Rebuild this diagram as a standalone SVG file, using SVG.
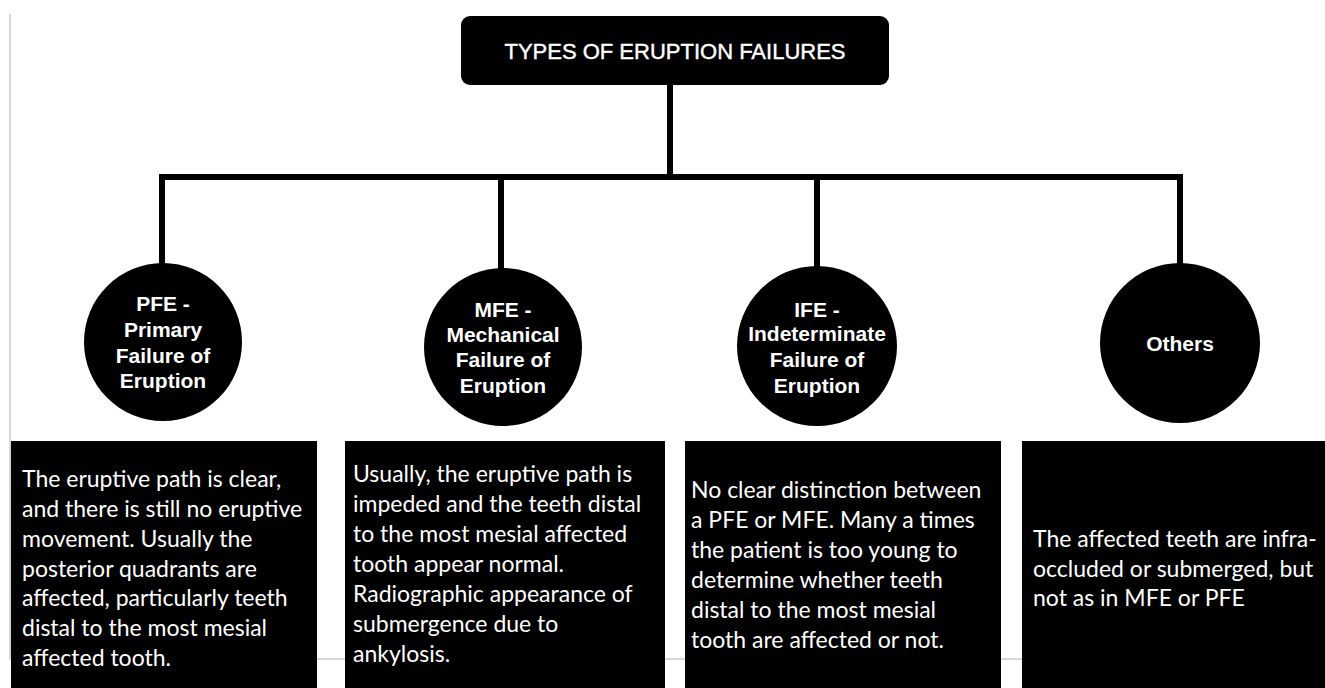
<svg xmlns="http://www.w3.org/2000/svg" width="1325" height="688" viewBox="0 0 1325 688">
<style>
.conn{stroke:#000;stroke-width:6;fill:none;stroke-linecap:square}
.guide{stroke:#c8c8c8;stroke-width:1.5;fill:none}
.title{font-family:"Liberation Sans",Arial,sans-serif;font-size:22px;fill:#fff;stroke:#fff;stroke-width:0.4;text-anchor:middle}
.circ{font-family:"Liberation Sans",Arial,sans-serif;font-size:21px;font-weight:bold;fill:#fff;text-anchor:middle}
.desc{font-family:Lato,"Open Sans",sans-serif;font-size:23px;fill:#fff}
</style>
<rect width="1325" height="688" fill="#fff"/>
<g id="guides">
<line class="guide" x1="10" y1="14" x2="10" y2="659"/>
<line class="guide" x1="10" y1="659" x2="1325" y2="659"/>
</g>
<g id="connectors">
<line class="conn" x1="670" y1="85" x2="670" y2="177"/>
<line class="conn" x1="162" y1="177" x2="1180" y2="177"/>
<line class="conn" x1="162" y1="177" x2="162" y2="266"/>
<line class="conn" x1="501" y1="177" x2="501" y2="270"/>
<line class="conn" x1="817" y1="177" x2="817" y2="268"/>
<line class="conn" x1="1180" y1="177" x2="1180" y2="266"/>
</g>
<g id="root">
<rect x="461" y="16" width="428" height="69" rx="9" fill="#000"/>
<text class="title" x="675" y="59">TYPES OF ERUPTION FAILURES</text>
</g>
<g id="pfe">
<circle cx="163" cy="342" r="79" fill="#000"/>
<text class="circ" x="163" y="311">PFE -</text>
<text class="circ" x="163" y="337">Primary</text>
<text class="circ" x="163" y="363">Failure of</text>
<text class="circ" x="163" y="388">Eruption</text>
</g>
<g id="mfe">
<circle cx="503" cy="347" r="79" fill="#000"/>
<text class="circ" x="503" y="317">MFE -</text>
<text class="circ" x="503" y="342">Mechanical</text>
<text class="circ" x="503" y="367">Failure of</text>
<text class="circ" x="503" y="393">Eruption</text>
</g>
<g id="ife">
<circle cx="817" cy="346" r="80" fill="#000"/>
<text class="circ" x="817" y="317">IFE -</text>
<text class="circ" x="817" y="341">Indeterminate</text>
<text class="circ" x="817" y="367">Failure of</text>
<text class="circ" x="817" y="393">Eruption</text>
</g>
<g id="others">
<circle cx="1180" cy="343" r="80" fill="#000"/>
<text class="circ" x="1180" y="351">Others</text>
</g>
<g id="desc-pfe">
<rect x="11" y="441" width="306" height="247" fill="#000"/>
<text class="desc" x="22" y="487">The eruptive path is clear,</text>
<text class="desc" x="22" y="517">and there is still no eruptive</text>
<text class="desc" x="22" y="547">movement. Usually the</text>
<text class="desc" x="22" y="577">posterior quadrants are</text>
<text class="desc" x="22" y="606">affected, particularly teeth</text>
<text class="desc" x="22" y="636">distal to the most mesial</text>
<text class="desc" x="22" y="666">affected tooth.</text>
</g>
<g id="desc-mfe">
<rect x="345" y="441" width="320" height="247" fill="#000"/>
<text class="desc" x="353" y="482">Usually, the eruptive path is</text>
<text class="desc" x="353" y="512">impeded and the teeth distal</text>
<text class="desc" x="353" y="542">to the most mesial affected</text>
<text class="desc" x="353" y="572">tooth appear normal.</text>
<text class="desc" x="353" y="602">Radiographic appearance of</text>
<text class="desc" x="353" y="632">submergence due to</text>
<text class="desc" x="353" y="662">ankylosis.</text>
</g>
<g id="desc-ife">
<rect x="685" y="441" width="316" height="247" fill="#000"/>
<text class="desc" x="691" y="498">No clear distinction between</text>
<text class="desc" x="691" y="528">a PFE or MFE. Many a times</text>
<text class="desc" x="691" y="558">the patient is too young to</text>
<text class="desc" x="691" y="588">determine whether teeth</text>
<text class="desc" x="691" y="618">distal to the most mesial</text>
<text class="desc" x="691" y="648">tooth are affected or not.</text>
</g>
<g id="desc-others">
<rect x="1022" y="441" width="303" height="247" fill="#000"/>
<text class="desc" x="1033" y="547">The affected teeth are infra-</text>
<text class="desc" x="1033" y="577">occluded or submerged, but</text>
<text class="desc" x="1033" y="606">not as in MFE or PFE</text>
</g>
</svg>
